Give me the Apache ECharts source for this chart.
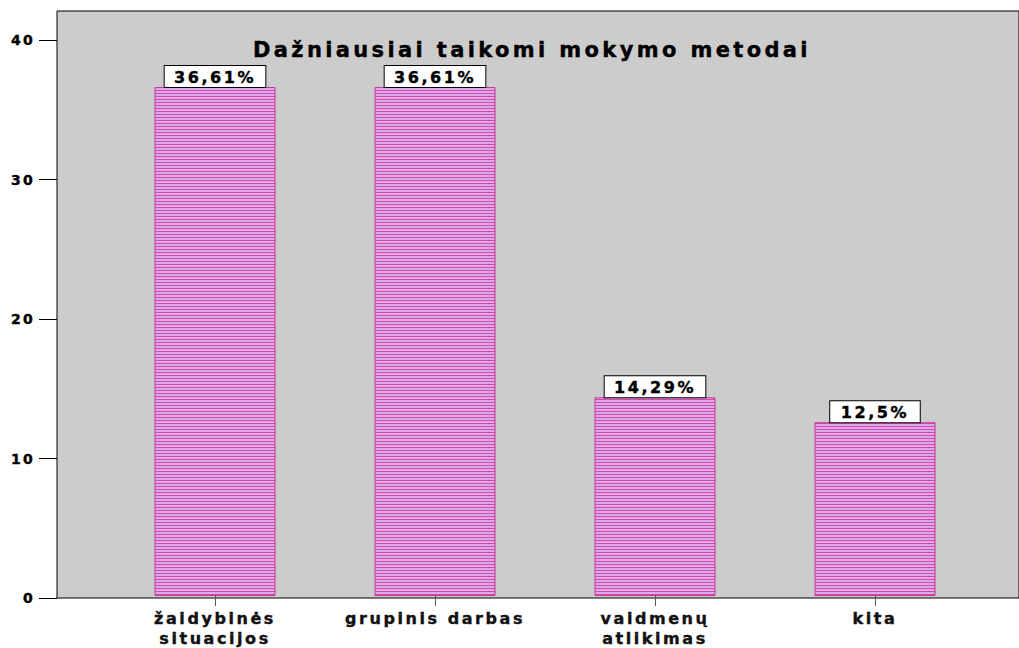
<!DOCTYPE html>
<html>
<head>
<meta charset="utf-8">
<script src="https://cdn.jsdelivr.net/npm/echarts@6/dist/echarts.min.js"></script>
<style>
  html, body { margin: 0; padding: 0; background: #fff; }
  #chart { width: 1019px; height: 648px; }
  /* the original export has wide, spaced-out lettering */
  #chart text { letter-spacing: 0.16em; }
</style>
</head>
<body>
<div id="chart"></div>
<script>
// duomenys
const categories = ['žaidybinės\nsituacijos', 'grupinis darbas', 'vaidmenų\natlikimas', 'kita'];
const values = [36.61, 36.61, 14.29, 12.5];
const yTicks = [0, 10, 20, 30, 40];
const yMax = 42.08;
const titleText = 'Dažniausiai taikomi mokymo metodai';

const FONT = "'DejaVu Sans', Verdana, sans-serif";
// heavier lettering, like the original
const heavy = { fontFamily: FONT, fontWeight: 'bold', color: '#000', textBorderColor: '#000', textBorderWidth: 0.4 };

// striped fill for the bars
function stripes() {
  const c = document.createElement('canvas');
  c.width = 4;
  c.height = 3;
  const ctx = c.getContext('2d');
  ctx.fillStyle = '#dfa8ea';
  ctx.fillRect(0, 0, 4, 3);
  ctx.fillStyle = '#cc4ea6';
  ctx.fillRect(0, 0, 4, 1);
  return c;
}

const chart = echarts.init(document.getElementById('chart'), null, { renderer: 'svg' });

const option = {
  animation: false,
  title: {
    text: titleText,
    left: 248,
    top: 34,
    textStyle: Object.assign({}, heavy, { fontSize: 21 })
  },
  grid: [
    // background frame
    { left: 57, right: -3, top: 11, bottom: 50, show: true, backgroundColor: '#cccccc', borderColor: '#000', borderWidth: 1 },
    // bars
    { left: 105, width: 880, top: 11, bottom: 50 }
  ],
  xAxis: [
    { gridIndex: 0, type: 'value', show: false },
    {
      gridIndex: 1,
      type: 'category',
      data: categories,
      axisLine: { show: false },
      axisTick: { show: true, alignWithLabel: true, length: 10, lineStyle: { color: '#555' } },
      axisLabel: Object.assign({}, heavy, {
        margin: 12,
        fontSize: 16,
        lineHeight: 20,
        color: '#111',
        textBorderColor: '#111'
      })
    }
  ],
  yAxis: [
    {
      gridIndex: 0,
      type: 'value',
      min: 0,
      max: yMax,
      axisLine: { show: false },
      splitLine: { show: false },
      axisTick: { show: true, length: 18, customValues: yTicks, lineStyle: { color: '#000' } },
      axisLabel: Object.assign({}, heavy, {
        customValues: yTicks,
        margin: 22,
        fontSize: 14
      })
    },
    { gridIndex: 1, type: 'value', min: 0, max: yMax, show: false }
  ],
  series: [{
    type: 'bar',
    xAxisIndex: 1,
    yAxisIndex: 1,
    data: values,
    barWidth: 121,
    itemStyle: {
      color: { image: stripes(), repeat: 'repeat' },
      borderColor: '#cc3399',
      borderWidth: 1
    },
    label: Object.assign({}, heavy, {
      show: true,
      position: 'top',
      distance: 0,
      formatter: p => String(p.value).replace('.', ',') + '%',
      fontSize: 16,
      backgroundColor: '#fff',
      borderColor: '#000',
      borderWidth: 1,
      padding: [3, 17, 2, 17]
    })
  }]
};

chart.setOption(option);
</script>
</body>
</html>
